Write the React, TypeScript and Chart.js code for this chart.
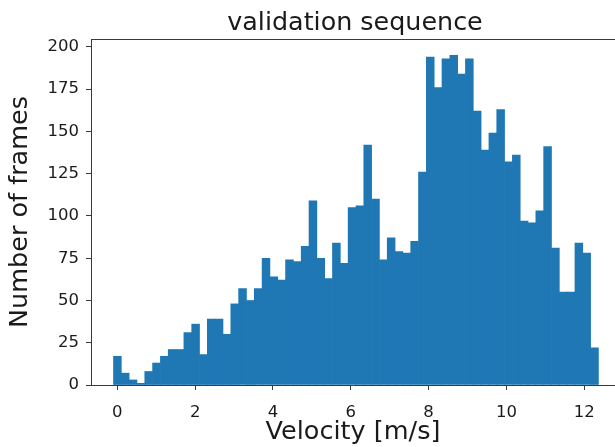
import React, { useEffect, useRef } from "react";
import { Chart, registerables } from "chart.js";

Chart.register(...registerables);

// Histogram bin counts (62 bins)
const counts: number[] = [
  17, 7, 3, 1, 8, 13, 17, 21, 21, 31, 36, 18, 39, 39, 30, 48, 57, 50, 57, 75,
  64, 62, 74, 73, 82, 109, 75, 63, 84, 72, 105, 106, 142, 110, 74, 87, 79, 78, 85, 126,
  194, 176, 193, 195, 184, 193, 162, 139, 149, 163, 132, 136, 97, 96, 103, 141, 81, 55, 55, 84,
  78, 22,
];
const binStart = -0.098;
const binEnd = 12.364;
const xTicks: number[] = [0, 2, 4, 6, 8, 10, 12];
const yTicks: number[] = [0, 25, 50, 75, 100, 125, 150, 175, 200];
const titleText = "validation sequence";
const xLabel = "Velocity [m/s]";
const yLabel = "Number of frames";

const FONT = "'DejaVu Sans', sans-serif";

export default function App() {
  const ref = useRef<HTMLCanvasElement | null>(null);

  useEffect(() => {
    document.body.style.margin = "0";
    const canvas = ref.current!;
    const binW = (binEnd - binStart) / counts.length;
    const data = counts.map((v, i) => ({ x: binStart + binW * (i + 0.5), y: v }));

    const framePlugin = {
      id: "frame",
      afterDraw(chart: any) {
        const { ctx, chartArea } = chart;
        ctx.save();
        ctx.strokeStyle = "#3a3a3a";
        ctx.lineWidth = 1;
        const t = Math.round(chartArea.top) + 0.5;
        ctx.beginPath();
        ctx.moveTo(chartArea.left, t);
        ctx.lineTo(chartArea.right, t);
        ctx.stroke();
        ctx.fillStyle = "#1a1a1a";
        ctx.font = `25.4px ${FONT}`;
        ctx.textAlign = "center";
        ctx.textBaseline = "alphabetic";
        ctx.fillText(titleText, 355, 29.5);
        ctx.restore();
      },
    };

    const gridOpts = {
      display: true,
      drawOnChartArea: false,
      drawTicks: true,
      tickLength: 5,
      offset: false,
      color: "#3a3a3a",
    };

    const chart = new Chart(canvas, {
      type: "bar",
      data: {
        datasets: [
          {
            data,
            backgroundColor: "#1f77b4",
            borderWidth: 0,
            barPercentage: 1,
            categoryPercentage: 1,
          } as any,
        ],
      },
      options: {
        animation: false,
        responsive: false,
        maintainAspectRatio: false,
        layout: { padding: { top: 39, left: 0, right: 0, bottom: 0 } },
        plugins: {
          legend: { display: false },
          tooltip: { enabled: false },
          title: { display: false },
        },
        scales: {
          x: {
            type: "linear",
            min: -0.676,
            max: 12.79,
            offset: false,
            afterFit: (s: any) => {
              s.height = 62;
            },
            afterBuildTicks: (s: any) => {
              s.ticks = xTicks.map((v) => ({ value: v }));
            },
            ticks: {
              color: "#1a1a1a",
              font: { family: FONT, size: 16.5 },
              padding: 13,
              maxRotation: 0,
              autoSkip: false,
              callback: (v: any) => String(v),
            },
            grid: gridOpts,
            border: { display: true, color: "#3a3a3a", width: 1 },
            title: {
              display: true,
              text: xLabel,
              color: "#1a1a1a",
              font: { family: FONT, size: 25.5, lineHeight: 1.2 },
              padding: { top: 0, bottom: -1 },
            },
          },
          y: {
            type: "linear",
            min: 0,
            max: 204.7,
            afterFit: (s: any) => {
              s.width = 91;
            },
            afterBuildTicks: (s: any) => {
              s.ticks = yTicks.map((v) => ({ value: v }));
            },
            ticks: {
              color: "#1a1a1a",
              font: { family: FONT, size: 16.5 },
              padding: 7,
              autoSkip: false,
              callback: (v: any) => String(v),
            },
            grid: gridOpts,
            border: { display: true, color: "#3a3a3a", width: 1 },
            title: {
              display: true,
              text: yLabel,
              color: "#1a1a1a",
              font: { family: FONT, size: 25.5, lineHeight: 1.2 },
              padding: { top: 5, bottom: 0 },
            },
          },
        },
      },
      plugins: [framePlugin],
    });
    return () => chart.destroy();
  }, []);

  return (
    <div style={{ position: "fixed", left: 0, top: 0, width: 615, height: 447 }}>
      <canvas ref={ref} width={615} height={447} style={{ width: 615, height: 447 }} />
    </div>
  );
}
